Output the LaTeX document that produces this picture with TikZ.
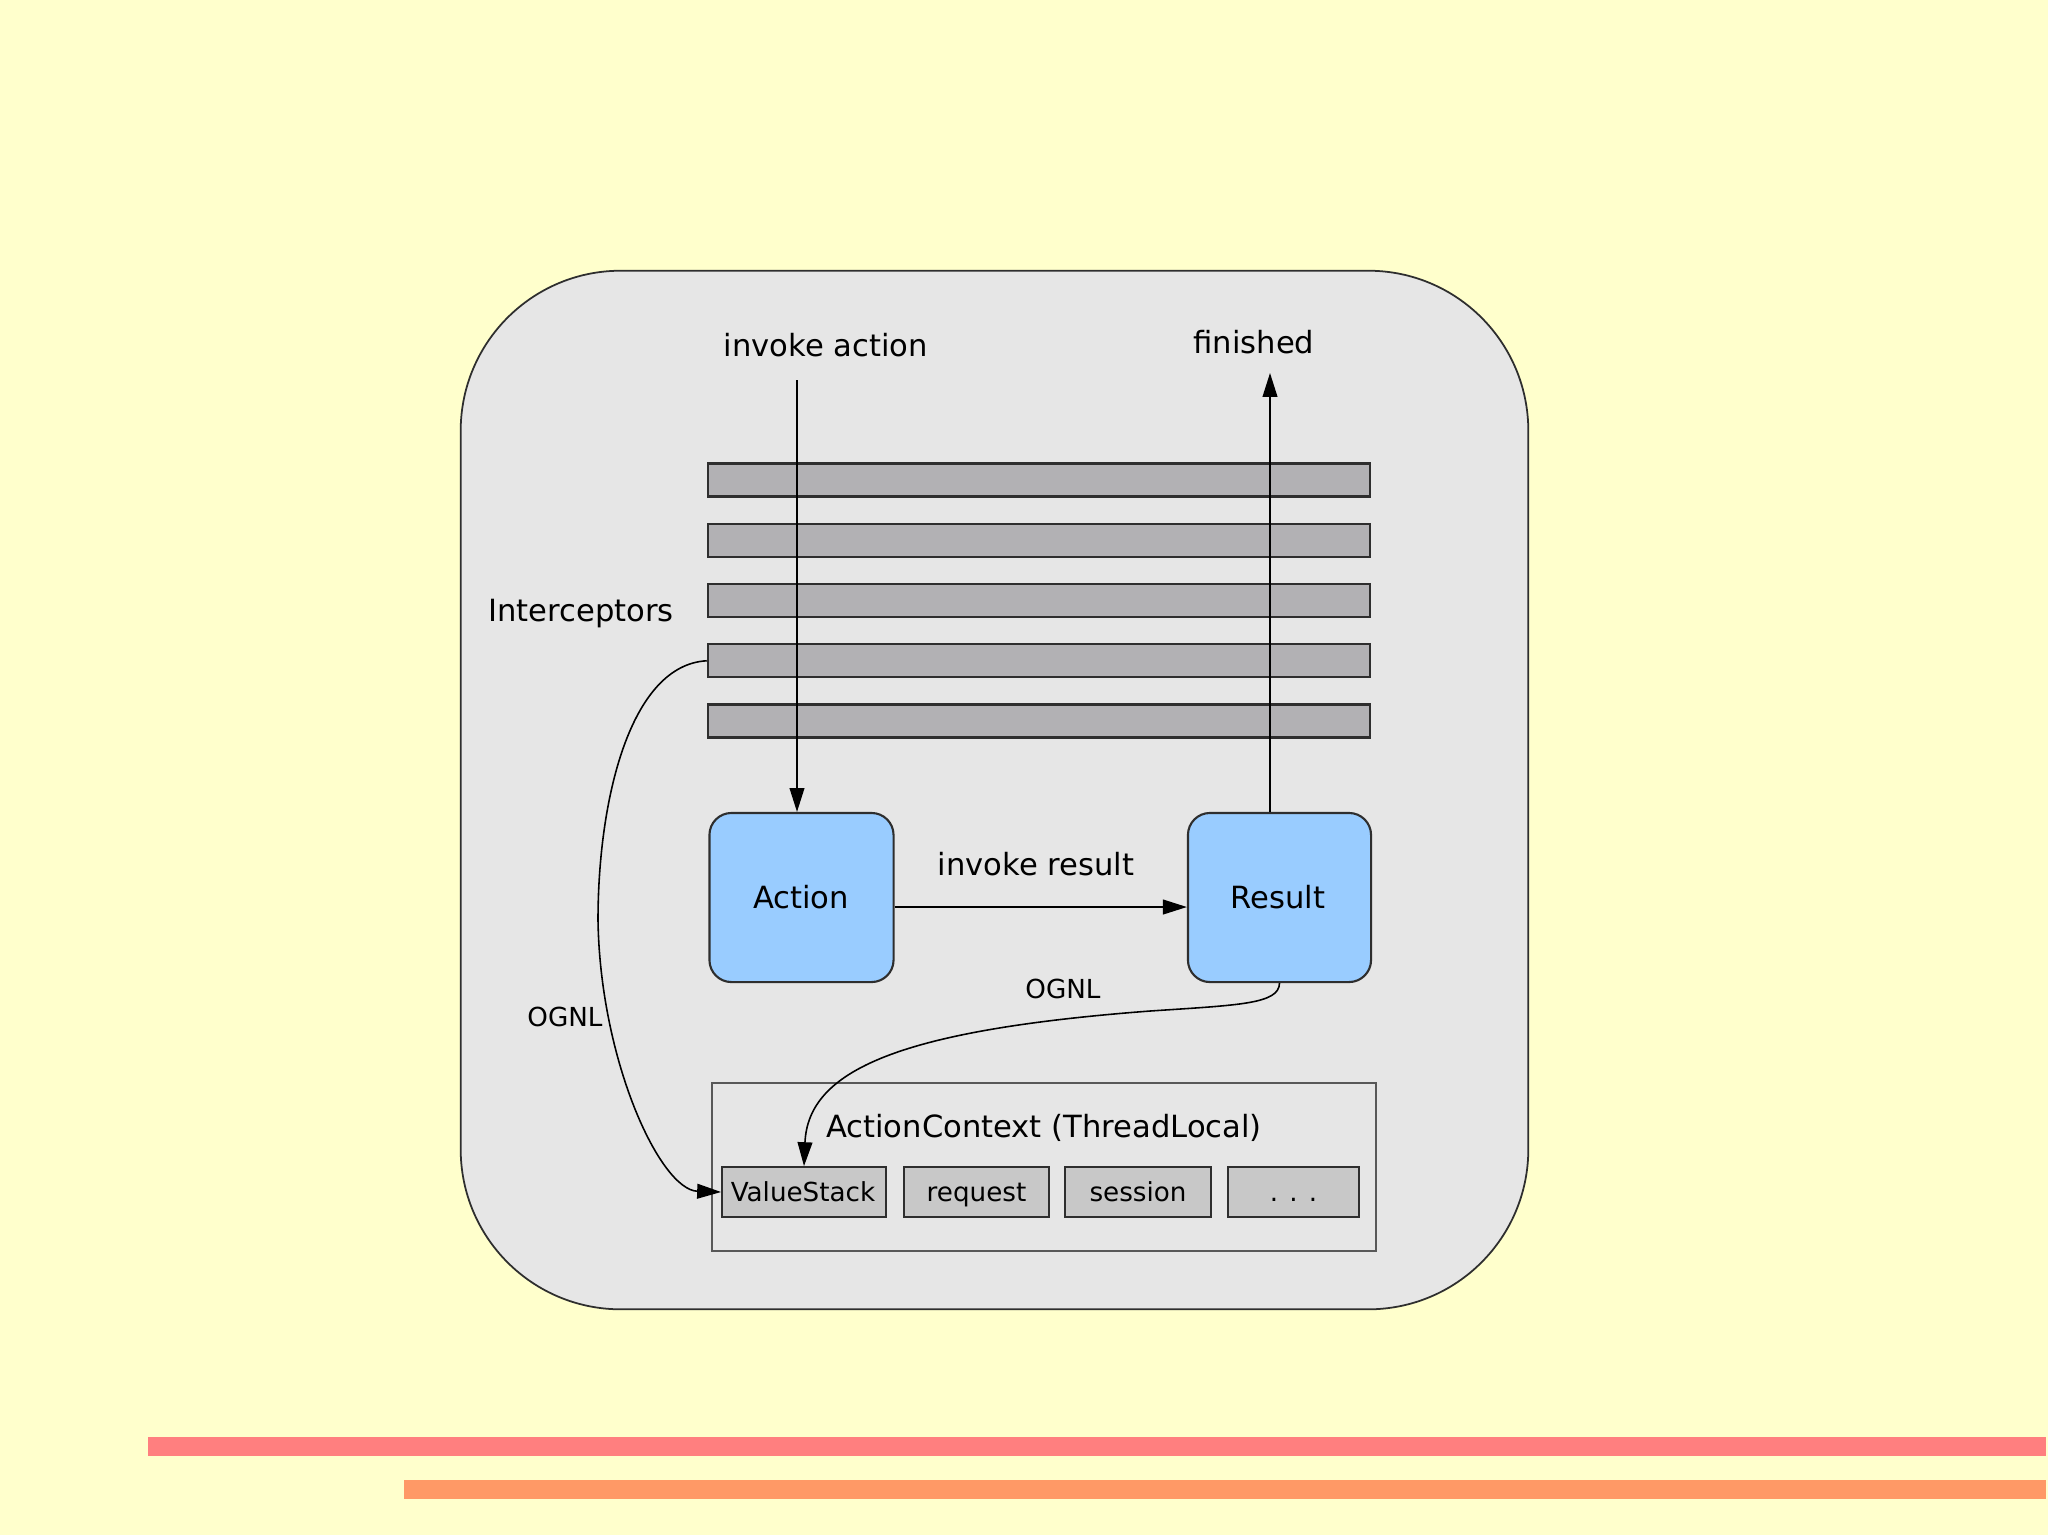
\documentclass[tikz,border=0pt]{standalone}
\usepackage{fontspec}
\setmainfont{DejaVu Sans}
\usetikzlibrary{arrows.meta}
\definecolor{bgyellow}{HTML}{FFFFCC}
\definecolor{framegray}{HTML}{E6E6E6}
\definecolor{bargray}{HTML}{B2B1B4}
\definecolor{slotgray}{HTML}{C8C8C8}
\definecolor{bluebox}{HTML}{99CCFF}
\definecolor{edgegray}{HTML}{2E2E2E}
\definecolor{stripered}{HTML}{FF7F7F}
\definecolor{stripeorange}{HTML}{FF9966}
\tikzset{
  frame/.style={draw=edgegray, line width=0.5pt, fill=framegray, rounded corners=1.6cm, inner sep=0pt},
  interceptor/.style={draw=edgegray, line width=0.6pt, fill=bargray, minimum width=6.62cm, minimum height=0.33cm, inner sep=0pt},
  actbox/.style={draw=edgegray, line width=0.6pt, fill=bluebox, rounded corners=0.22cm, minimum width=1.84cm, minimum height=1.69cm, inner sep=0pt, font=\fontsize{8.7}{10}\selectfont},
  ctxbox/.style={draw=edgegray!80, line width=0.5pt, fill=framegray, minimum width=6.64cm, minimum height=1.68cm, inner sep=0pt},
  slot/.style={draw=edgegray, line width=0.5pt, fill=slotgray, minimum height=0.5cm, inner sep=0pt, font=\fontsize{7.45}{9}\selectfont},
  lbl/.style={inner sep=0pt, anchor=base, font=\fontsize{8.7}{10}\selectfont},
  smalllbl/.style={inner sep=0pt, anchor=base, font=\fontsize{7.45}{9}\selectfont},
  conn/.style={draw=black, line width=0.45pt, -{Triangle[length=6.8pt,width=4.2pt]}},
}
\begin{document}
\begin{tikzpicture}[x=0.01cm,y=-0.01cm]
\useasboundingbox (0,0) rectangle (2048,1535);
\fill[bgyellow] (0,0) rectangle (2048,1535);
\fill[stripered] (148,1437) rectangle (2046,1456);
\fill[stripeorange] (404,1480) rectangle (2046,1499);

\node[frame, minimum width=10.67cm, minimum height=10.38cm] (frm) at (994.5,790) {};

\foreach \i in {1,...,5} {
  \node[interceptor] (bar\i) at (1039,{480+60.25*(\i-1)}) {};
}

\node[actbox] (act) at (801.5,897.5) {};
\node[actbox, minimum width=1.83cm] (res) at (1279.5,897.5) {};
\node[lbl] (acttext) at (801,908) {Action};
\node[lbl] (restext) at (1278,908) {Result};

\node[ctxbox] (ctx) at (1044,1167) {};
\node[lbl] (ctxtext) at (1044,1137) {ActionContext (ThreadLocal)};
\node[slot, minimum width=1.64cm] (vs) at (804,1192) {};
\node[slot, minimum width=1.45cm] (req) at (976.5,1192) {};
\node[slot, minimum width=1.46cm] (ses) at (1138,1192) {};
\node[slot, minimum width=1.31cm] (etc) at (1293.5,1192) {};
\node[smalllbl] (vstext) at (803,1201) {ValueStack};
\node[smalllbl] (reqtext) at (976.5,1201) {request};
\node[smalllbl] (sestext) at (1138,1201) {session};
\node[smalllbl] (etctext) at (1293.5,1201) {. . .};

\node[lbl] (invact) at (826,356) {invoke action};
\node[lbl] (fin) at (1254,353) {finished};
\node[lbl] (icpt) at (581,621) {Interceptors};
\node[lbl] (invres) at (1036,875) {invoke result};
\node[smalllbl] (ognlr) at (1063,998) {OGNL};
\node[smalllbl] (ognll) at (565,1026) {OGNL};

\coordinate (iastart) at (797,380);
\coordinate (finend) at (1270,373);
\coordinate (irlevel) at (0,907);

\draw[conn] (iastart) -- (iastart |- act.north);
\draw[conn] (finend |- res.north) -- (finend);
\draw[conn] (act.east |- irlevel) -- (res.west |- irlevel);
\draw[conn] (res.south) .. controls (1279,1004) and (1240,1005) .. (1150,1011)
  .. controls (900,1030) and (808,1070) .. (vs.north);
\draw[conn] (bar4.west) .. controls (630,665) and (598,800) .. (598,920)
  .. controls (600,1060) and (660,1190) .. (vs.west);
\end{tikzpicture}
\end{document}
